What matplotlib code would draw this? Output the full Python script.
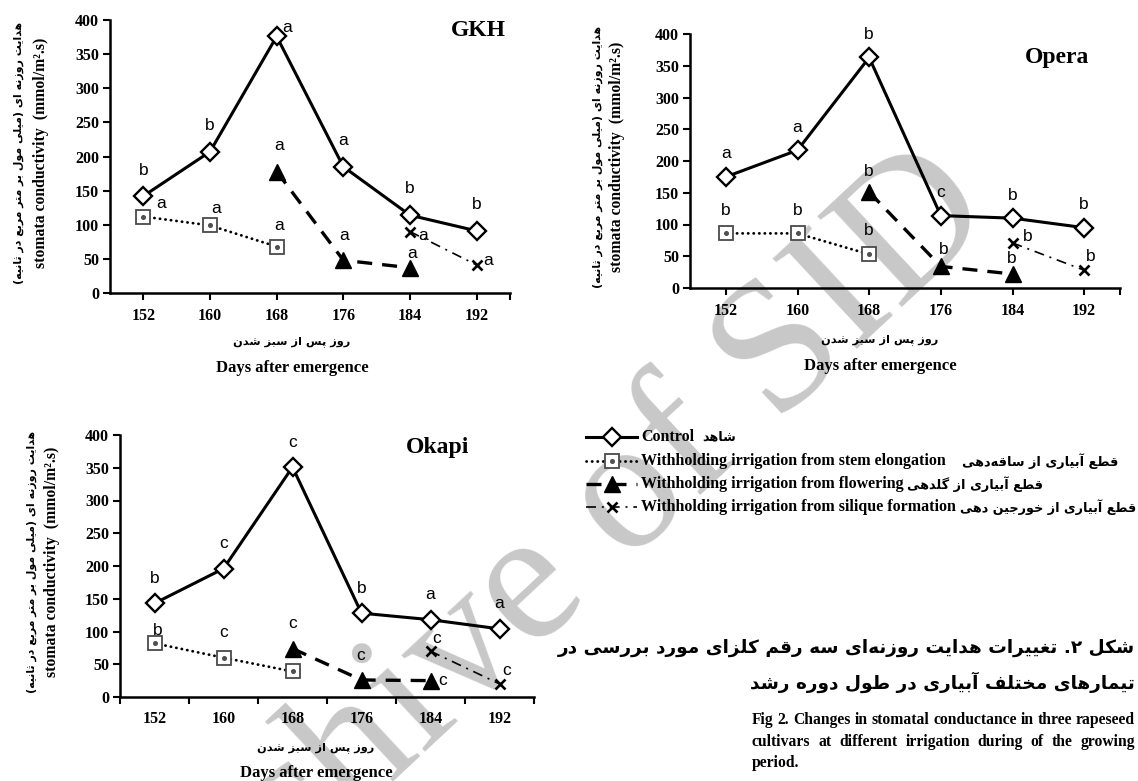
import numpy as np
import matplotlib
matplotlib.use("Agg")
import matplotlib.pyplot as plt
from matplotlib.lines import Line2D

W, H = 1138, 781
nan = np.nan

DAYS = [152, 160, 168, 176, 184, 192]

# GKH
gkh_control = [142, 207, 376, 185, 114, 91]
gkh_stem = [112, 99, 68, nan, nan, nan]
gkh_flowering = [nan, nan, 178, 48, 37, nan]
gkh_silique = [nan, nan, nan, nan, 90, 41]
gkh_control_sig = ['b', 'b', 'a', 'a', 'b', 'b']
gkh_stem_sig = ['a', 'a', 'a', '', '', '']
gkh_flowering_sig = ['', '', 'a', 'a', 'a', '']
gkh_silique_sig = ['', '', '', '', 'a', 'a']

# Opera
opera_control = [175, 217, 363, 114, 110, 95]
opera_stem = [86, 86, 53, nan, nan, nan]
opera_flowering = [nan, nan, 151, 34, 22, nan]
opera_silique = [nan, nan, nan, nan, 71, 28]
opera_control_sig = ['a', 'a', 'b', 'c', 'b', 'b']
opera_stem_sig = ['b', 'b', 'b', '', '', '']
opera_flowering_sig = ['', '', 'b', 'b', 'b', '']
opera_silique_sig = ['', '', '', '', 'b', 'b']

# Okapi
okapi_control = [143, 196, 351, 128, 118, 104]
okapi_stem = [82, 60, 39, nan, nan, nan]
okapi_flowering = [nan, nan, 74, 26, 25, nan]
okapi_silique = [nan, nan, nan, nan, 70, 20]
okapi_control_sig = ['b', 'c', 'c', 'b', 'a', 'a']
okapi_stem_sig = ['b', 'c', '', '', '', '']
okapi_flowering_sig = ['', '', 'c', 'c', 'c', '']
okapi_silique_sig = ['', '', '', '', 'c', 'c']

Y_TICKS = list(range(0, 401, 50))

# Persian strings (logical order)
FA_YLABEL = 'هدایت روزنه ای (میلی مول بر متر مربع در ثانیه)'
FA_XLABEL = 'روز پس از سبز شدن'
FA_LEGEND = ['شاهد',
             'قطع \u0622بیاری از ساقه\u200cدهی',
             'قطع \u0622بیاری از گلدهی',
             'قطع \u0622بیاری از خورجین دهی']
EN_LEGEND = ['Control',
             'Withholding irrigation from stem elongation',
             'Withholding irrigation from flowering',
             'Withholding irrigation from silique formation']
FA_CAPTION = ['شکل \u06f2. تغییرات هدایت روزنه\u200cای سه رقم کلزای مورد بررسی در',
              'تیمارهای مختلف \u0622بیاری در طول دوره رشد']
EN_CAPTION = ['Fig 2. Changes in stomatal conductance in three rapeseed',
              'cultivars at different irrigation during of the growing',
              'period.']

# ---------------------------------------------------------------- shaping
# Arabic presentation forms: isolated, final, initial, medial
FORMS = {
    '\u0627': ('\uFE8D', '\uFE8E', None, None),
    '\u0622': ('\uFE81', '\uFE82', None, None),
    '\u0628': ('\uFE8F', '\uFE90', '\uFE91', '\uFE92'),
    '\u067E': ('\uFB56', '\uFB57', '\uFB58', '\uFB59'),
    '\u062A': ('\uFE95', '\uFE96', '\uFE97', '\uFE98'),
    '\u062B': ('\uFE99', '\uFE9A', '\uFE9B', '\uFE9C'),
    '\u062C': ('\uFE9D', '\uFE9E', '\uFE9F', '\uFEA0'),
    '\u062E': ('\uFEA5', '\uFEA6', '\uFEA7', '\uFEA8'),
    '\u062F': ('\uFEA9', '\uFEAA', None, None),
    '\u0631': ('\uFEAD', '\uFEAE', None, None),
    '\u0632': ('\uFEAF', '\uFEB0', None, None),
    '\u0633': ('\uFEB1', '\uFEB2', '\uFEB3', '\uFEB4'),
    '\u0634': ('\uFEB5', '\uFEB6', '\uFEB7', '\uFEB8'),
    '\u0637': ('\uFEC1', '\uFEC2', '\uFEC3', '\uFEC4'),
    '\u0639': ('\uFEC9', '\uFECA', '\uFECB', '\uFECC'),
    '\u063A': ('\uFECD', '\uFECE', '\uFECF', '\uFED0'),
    '\u0641': ('\uFED1', '\uFED2', '\uFED3', '\uFED4'),
    '\u0642': ('\uFED5', '\uFED6', '\uFED7', '\uFED8'),
    '\u06A9': ('\uFB8E', '\uFB8F', '\uFB90', '\uFB91'),
    '\u06AF': ('\uFB92', '\uFB93', '\uFB94', '\uFB95'),
    '\u0644': ('\uFEDD', '\uFEDE', '\uFEDF', '\uFEE0'),
    '\u0645': ('\uFEE1', '\uFEE2', '\uFEE3', '\uFEE4'),
    '\u0646': ('\uFEE5', '\uFEE6', '\uFEE7', '\uFEE8'),
    '\u0648': ('\uFEED', '\uFEEE', None, None),
    '\u0647': ('\uFEE9', '\uFEEA', '\uFEEB', '\uFEEC'),
    '\u06CC': ('\uFBFC', '\uFBFD', '\uFBFE', '\uFBFF'),
}


def fa(text):
    """Join Persian letters into their contextual forms and lay them out right to left."""
    text = text.replace('\u064A', '\u06CC').replace('\u0643', '\u06A9')
    chars = list(text)
    out = []
    for i, c in enumerate(chars):
        if c not in FORMS:
            if c != '\u200c':
                out.append(c)
            continue
        prev = chars[i - 1] if i > 0 else None
        nxt = chars[i + 1] if i + 1 < len(chars) else None
        jp = prev in FORMS and FORMS[prev][2] is not None
        jn = FORMS[c][2] is not None and nxt in FORMS
        f = FORMS[c]
        out.append(f[3] if (jp and jn) else f[1] if jp else f[2] if jn else f[0])
    vis = ''.join(reversed(out))
    return vis.translate(str.maketrans('()', ')('))


# ---------------------------------------------------------------- figure
SERIF = 'Liberation Serif'
SANS = 'Liberation Sans'
FAFONT = ['DejaVu Sans']
plt.rcParams['font.family'] = [SERIF, 'DejaVu Sans']

fig = plt.figure(figsize=(W / 100, H / 100), dpi=100)
bg = fig.add_axes([0, 0, 1, 1], zorder=0)
bg.set_xlim(0, W)
bg.set_ylim(H, 0)
bg.axis('off')

bg.text(572, 614, 'Archive of SID', rotation=43, rotation_mode='anchor',
        ha='center', va='baseline', fontsize=136, color='#c8c8c8',
        family=SERIF, zorder=0)

CTRL = dict(color='k', lw=2.2, marker='D', ms=9, mfc='white', mec='k', mew=1.7)
STEM = dict(color='k', lw=2.0, ls=(0, (0.1, 1.9)), dash_capstyle='round',
            marker='s', ms=10, mfc='white', mec='#4a4a4a', mew=1.3)
FLOW = dict(color='k', lw=2.4, ls=(0, (4.5, 3)), marker='^', ms=11, mfc='k', mec='k')
SILQ = dict(color='k', lw=1.2, ls=(0, (6, 3.5, 1.2, 3.5)), marker='x', ms=7.5, mew=1.9, mec='k')


def letters(ax, values, sig, offs):
    for i, (v, s, o) in enumerate(zip(values, sig, offs)):
        if s and o is not None:
            ax.annotate(s, (i, v), xytext=o, textcoords='offset pixels',
                        ha='center', va='center', fontsize=12.5, family=SANS,
                        zorder=6)


def panel(box, name, name_xy, series, sigs, offs, between, ylab_x, xlab_xy):
    l, t, r, b = box
    ax = fig.add_axes([l / W, 1 - b / H, (r - l) / W, (b - t) / H], zorder=2)
    ax.patch.set_visible(False)
    x = np.arange(len(DAYS))
    control, stem, flowering, silique = series
    ax.plot(x, control, zorder=4, **CTRL)
    ax.plot(x, stem, zorder=3, **STEM)
    ax.plot(x, stem, ls='none', marker='o', ms=2.6, color='#505050', zorder=3.5)
    ax.plot(x, flowering, zorder=3, **FLOW)
    ax.plot(x, silique, zorder=3, **SILQ)
    for vals, sg, of in zip(series, sigs, offs):
        letters(ax, vals, sg, of)

    ax.set_xlim(-0.5, 5.5)
    ax.set_ylim(0, 400)
    ax.set_yticks(Y_TICKS)
    ax.set_yticklabels([str(v) for v in Y_TICKS], fontweight='bold', family=SERIF, fontsize=11.5)
    for s in ('top', 'right'):
        ax.spines[s].set_visible(False)
    for s in ('left', 'bottom'):
        ax.spines[s].set_linewidth(1.8)
    ax.tick_params(axis='y', direction='out', length=5, width=1.5, pad=3)
    if between:
        ax.set_xticks(np.arange(-0.5, 6, 1))
        ax.set_xticklabels([])
        ax.set_xticks(x, minor=True)
        ax.set_xticklabels([str(d) for d in DAYS], minor=True, fontweight='bold',
                           family=SERIF, fontsize=11.5)
        ax.tick_params(axis='x', which='major', direction='out', length=5, width=1.5)
        ax.tick_params(axis='x', which='minor', length=0, pad=10)
    else:
        ax.set_xticks(list(x) + [5.5])
        ax.set_xticklabels([str(d) for d in DAYS] + [''], fontweight='bold',
                           family=SERIF, fontsize=11.5)
        ax.tick_params(axis='x', direction='out', length=5, width=1.5, pad=6)

    bg.text(name_xy[0], name_xy[1], name, ha='center', va='center', fontsize=17,
            fontweight='bold', family=SERIF)
    cy = (t + b) / 2
    bg.text(ylab_x[0], cy - 4, fa(FA_YLABEL), rotation=90, ha='center', va='center',
            fontsize=7.9, fontweight='bold', family=FAFONT)
    bg.text(ylab_x[1], cy - 4, 'stomata conductivity  (mmol/m\u00b2.s)', rotation=90,
            ha='center', va='center', fontsize=11.3, fontweight='bold', family=SERIF)
    bg.text(xlab_xy[0], xlab_xy[1], fa(FA_XLABEL), ha='center', va='center',
            fontsize=8.2, fontweight='bold', family=FAFONT)
    bg.text(xlab_xy[0], xlab_xy[2], 'Days after emergence', ha='center', va='center',
            fontsize=12, fontweight='bold', family=SERIF)
    return ax


N = None
gkh_offs = [
    [(0, 26), (0, 26), (10, 9), (0, 26), (0, 27), (0, 26)],
    [(18, 13), (6, 17), (2, 21), N, N, N],
    [N, N, (2, 26), (1, 25), (2, 14), N],
    [N, N, N, N, (13, -4), (11, 5)],
]
opera_offs = [
    [(0, 23)] * 6,
    [(0, 23), (0, 23), (0, 24), N, N, N],
    [N, N, (0, 21), (3, 17), (-1, 16), N],
    [N, N, N, N, (15, 6), (7, 14)],
]
okapi_offs = [
    [(0, 25)] * 6,
    [(3, 13), (0, 25), N, N, N, N],
    [N, N, (0, 25), (-1, 24), (12, 0), N],
    [N, N, N, N, (6, 13), (7, 13)],
]

panel((110, 20, 510, 293), 'GKH', (478, 31),
      (gkh_control, gkh_stem, gkh_flowering, gkh_silique),
      (gkh_control_sig, gkh_stem_sig, gkh_flowering_sig, gkh_silique_sig),
      gkh_offs, False, (19, 41), (292, 342, 368))
panel((690, 34, 1120, 288), 'Opera', (1057, 57),
      (opera_control, opera_stem, opera_flowering, opera_silique),
      (opera_control_sig, opera_stem_sig, opera_flowering_sig, opera_silique_sig),
      opera_offs, False, (598, 617), (880, 340, 366))
panel((120, 435, 534, 697), 'Okapi', (438, 448),
      (okapi_control, okapi_stem, okapi_flowering, okapi_silique),
      (okapi_control_sig, okapi_stem_sig, okapi_flowering_sig, okapi_silique_sig),
      okapi_offs, True, (32, 52), (316, 748, 773))

# ---------------------------------------------------------------- legend
renderer = fig.canvas.get_renderer()
row_y = [437, 461, 484, 507]
styles = [CTRL, STEM, FLOW, SILQ]
gaps = [8, 16, 3, 4]
for y, st, en, fatxt, gap in zip(row_y, styles, EN_LEGEND, FA_LEGEND, gaps):
    st2 = {k: v for k, v in st.items() if k not in ('marker', 'ms', 'mfc', 'mec', 'mew')}
    bg.add_line(Line2D([586, 637], [y, y], **st2))
    mk = {k: st[k] for k in ('marker', 'ms', 'mfc', 'mec', 'mew') if k in st}
    bg.add_line(Line2D([612], [y], ls='none', **mk))
    if st is STEM:
        bg.add_line(Line2D([612], [y], ls='none', marker='o', ms=2.6, color='#505050'))
    t = bg.text(641, y, en, ha='left', va='center', fontsize=11.5, fontweight='bold', family=SERIF)
    ext = t.get_window_extent(renderer)
    ft = bg.text(ext.x1 + gap, y, fa(fatxt), ha='left', va='center', fontsize=9.3,
                 fontweight='bold', family=FAFONT)
    # keep the Persian part inside the page
    fx = ft.get_window_extent(renderer)
    if fx.x1 > W - 2:
        ft.set_fontsize(9.3 * (W - 2 - fx.x0) / fx.width)

# ---------------------------------------------------------------- caption
bg.text(1135, 648, fa(FA_CAPTION[0]), ha='right', va='center', fontsize=13.3,
        fontweight='bold', family=FAFONT)
bg.text(1135, 682, fa(FA_CAPTION[1]), ha='right', va='center', fontsize=13.3,
        fontweight='bold', family=FAFONT)


def fit_size(lines, width, size, **kw):
    """Largest font size at which every line fits the column with normal spacing."""
    probe = bg.text(0, 0, '', **kw)
    while size > 6:
        probe.set_fontsize(size)
        ok = True
        for ln in lines:
            probe.set_text(ln)
            if probe.get_window_extent(renderer).width > width:
                ok = False
                break
        if ok:
            break
        size -= 0.25
    probe.remove()
    return size


def justified(line, x0, x1, y, size, stretch=True, **kw):
    words = line.split()
    texts = [bg.text(0, y, w, ha='left', va='center', fontsize=size, **kw) for w in words]
    widths = [tx.get_window_extent(renderer).width for tx in texts]
    space = size * 100 / 72 * 0.25
    if stretch and len(words) > 1:
        space = (x1 - x0 - sum(widths)) / (len(words) - 1)
    xpos = x0
    for tx, wd in zip(texts, widths):
        tx.set_x(xpos)
        xpos += wd + space


cap_kw = dict(fontweight='bold', family=SERIF)
cap_size = fit_size(EN_CAPTION[:2], 1135 - 752, 13, **cap_kw)
justified(EN_CAPTION[0], 752, 1135, 720, cap_size, **cap_kw)
justified(EN_CAPTION[1], 752, 1135, 742, cap_size, **cap_kw)
justified(EN_CAPTION[2], 752, 1135, 763, cap_size, stretch=False, **cap_kw)

fig.savefig('out.png', dpi=100)
